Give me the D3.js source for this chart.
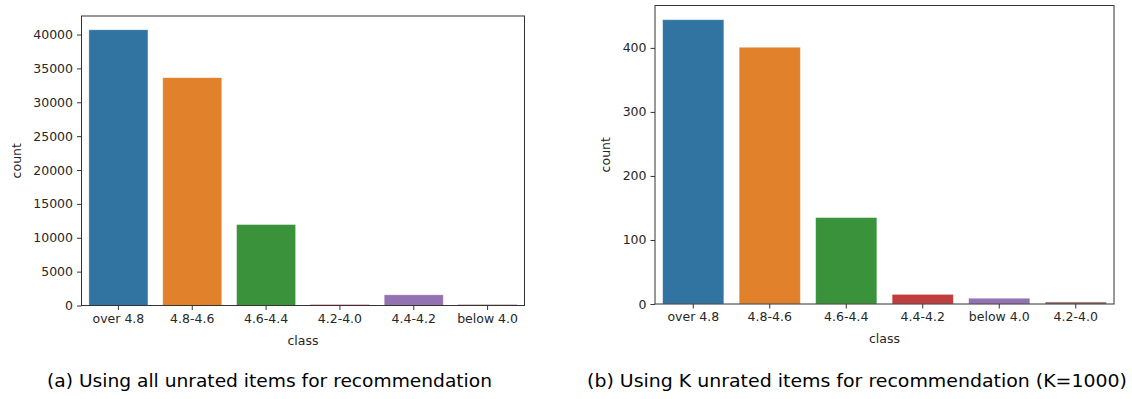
<!DOCTYPE html>
<html>
<head>
<meta charset="utf-8">
<script src="https://cdn.jsdelivr.net/npm/d3@7"></script>
<style>
  html, body { margin: 0; padding: 0; background: #fff; }
  svg { display: block; }
</style>
</head>
<body>
<svg id="chart" width="1132" height="399"></svg>
<script>
// ---- data ----
const categoriesA = ["over 4.8", "4.8-4.6", "4.6-4.4", "4.2-4.0", "4.4-4.2", "below 4.0"];
const countsA = [40700, 33630, 11950, 150, 1580, 150];
const ticksA = [0, 5000, 10000, 15000, 20000, 25000, 30000, 35000, 40000];

const categoriesB = ["over 4.8", "4.8-4.6", "4.6-4.4", "4.4-4.2", "below 4.0", "4.2-4.0"];
const countsB = [444, 401, 135, 15, 9, 3];
const ticksB = [0, 100, 200, 300, 400];

const palette = ["#3274a1", "#e1812c", "#3a923a", "#c03d3e", "#9372b2", "#845b53"];
const captionA = "(a) Using all unrated items for recommendation";
const captionB = "(b) Using K unrated items for recommendation (K=1000)";

const svg = d3.select("#chart");
const textColor = "#262626";
const spineColor = "#333333";

function drawPanel(opts) {
  const { left, right, top, bottom, categories, counts, ticks, caption, capX, capW } = opts;
  const g = svg.append("g");
  const x = d3.scaleBand().domain(categories).range([left, right]).paddingInner(0.2).paddingOuter(0.1);
  const yMax = d3.max(counts) * 1.05;
  const y = d3.scaleLinear().domain([0, yMax]).range([bottom, top]);

  g.selectAll("rect.bar").data(categories).join("rect")
    .attr("class", "bar")
    .attr("x", d => x(d))
    .attr("width", x.bandwidth())
    .attr("y", (d, i) => y(counts[i]))
    .attr("height", (d, i) => y(0) - y(counts[i]))
    .attr("fill", (d, i) => palette[i])
    .attr("stroke", "#ffffff")
    .attr("stroke-opacity", 0.45)
    .attr("stroke-width", 0.8);

  // frame (spines)
  g.append("rect")
    .attr("x", left).attr("y", top)
    .attr("width", right - left).attr("height", bottom - top)
    .attr("fill", "none").attr("stroke", spineColor).attr("stroke-width", 1);

  // y axis
  const yAxis = d3.axisLeft(y).tickValues(ticks).tickSize(4.5).tickPadding(4).tickFormat(d3.format("d"));
  const ya = g.append("g").attr("transform", `translate(${left},0)`).call(yAxis);
  ya.select(".domain").remove();
  ya.selectAll("line").attr("stroke", spineColor);
  ya.selectAll("text").attr("fill", textColor).style("font-family", "DejaVu Sans").style("font-size", "12.5px");

  // x axis
  const xAxis = d3.axisBottom(x).tickSize(4.5).tickPadding(4);
  const xa = g.append("g").attr("transform", `translate(0,${bottom})`).call(xAxis);
  xa.select(".domain").remove();
  xa.selectAll("line").attr("stroke", spineColor);
  xa.selectAll("text").attr("fill", textColor).style("font-family", "DejaVu Sans").style("font-size", "12.5px");

  // axis labels
  g.append("text")
    .attr("x", (left + right) / 2).attr("y", bottom + 39)
    .attr("text-anchor", "middle")
    .attr("fill", textColor)
    .style("font-family", "DejaVu Sans").style("font-size", "12.5px")
    .text("class");
  g.append("text")
    .attr("transform", `translate(${opts.yLabelX},${(top + bottom) / 2}) rotate(-90)`)
    .attr("text-anchor", "middle")
    .attr("dy", "0.35em")
    .attr("fill", textColor)
    .style("font-family", "DejaVu Sans").style("font-size", "12.5px")
    .text("count");

  // caption
  svg.append("text")
    .attr("x", capX).attr("y", 387)
    .attr("textLength", capW).attr("lengthAdjust", "spacingAndGlyphs")
    .attr("fill", "#000")
    .style("font-family", "DejaVu Sans").style("font-size", "18px")
    .text(caption);
}

drawPanel({
  left: 81.5, right: 524.5, top: 16, bottom: 305.5,
  categories: categoriesA, counts: countsA, ticks: ticksA,
  yLabelX: 17, caption: captionA, capX: 47, capW: 445
});
drawPanel({
  left: 655, right: 1114, top: 5.5, bottom: 304,
  categories: categoriesB, counts: countsB, ticks: ticksB,
  yLabelX: 606, caption: captionB, capX: 587, capW: 540
});
</script>
</body>
</html>
